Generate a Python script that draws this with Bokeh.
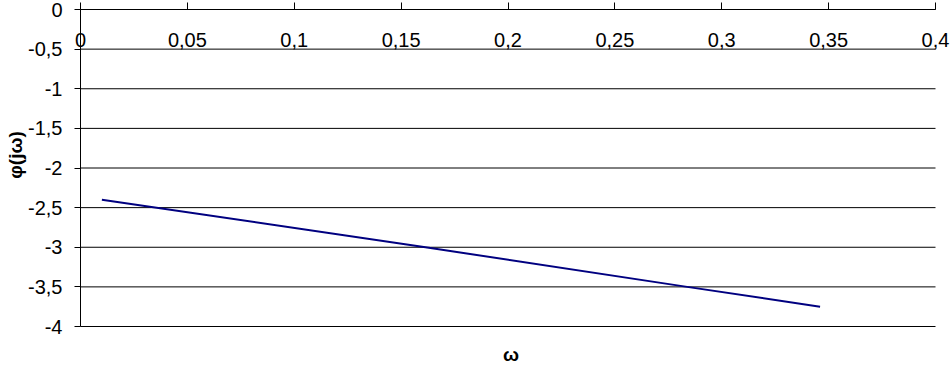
import math
from bokeh.plotting import figure
from bokeh.models import Range1d, LinearAxis, FixedTicker
from bokeh.core.properties import value
from bokeh.embed import file_html
from bokeh.resources import INLINE

# data
omega = [0.01, 0.1614, 0.2838, 0.346]
phi = [-2.40, -3.00, -3.50, -3.75]

x_ticks = [0, 0.05, 0.1, 0.15, 0.2, 0.25, 0.3, 0.35, 0.4]
x_labels = ["0", "0,05", "0,1", "0,15", "0,2", "0,25", "0,3", "0,35", "0,4"]
y_ticks = [0, -0.5, -1, -1.5, -2, -2.5, -3, -3.5, -4]
y_labels = ["0", "-0,5", "-1", "-1,5", "-2", "-2,5", "-3", "-3,5", "-4"]
x_title = "ω"
y_title = "φ(jω)"

FONT = "Liberation Sans"
FS = "20px"

# frame covers the whole canvas; x = 0 at px 80, x = 0.4 at px 935,
# y = 0 at px 9, y = -4 at px 326
W, H = 950, 365
xpx = 855 / 0.4
ypx = 317 / 4.0
x_range = Range1d(-80 / xpx, 0.4 + 15 / xpx)
y_range = Range1d(-4 - (H - 326) / ypx, 9 / ypx)

p = figure(width=W, height=H, output_backend="svg", toolbar_location=None,
           x_range=x_range, y_range=y_range,
           x_axis_location=None, y_axis_location=None,
           min_border=0, min_border_left=0, min_border_right=0,
           min_border_top=0, min_border_bottom=0)
p.outline_line_color = None
p.background_fill_color = "white"
p.border_fill_color = "white"
p.xgrid.grid_line_color = None
p.ygrid.grid_line_color = None

# horizontal grid lines between x = 0 and x = 0.4
n = len(y_ticks)
p.segment(x0=[x_ticks[0]] * n, y0=y_ticks, x1=[x_ticks[-1]] * n, y1=y_ticks,
          line_color="black", line_width=1)

# y axis at x = 0
ya = LinearAxis(fixed_location=0, bounds=(y_ticks[-1], y_ticks[0]),
                ticker=FixedTicker(ticks=y_ticks))
ya.major_label_overrides = {t: l for t, l in zip(y_ticks, y_labels)}
ya.axis_line_color = "black"
ya.major_tick_line_color = "black"
ya.major_tick_in = 0
ya.major_tick_out = 6
ya.minor_tick_line_color = None
ya.major_label_standoff = 12
ya.major_label_text_font = FONT
ya.major_label_text_font_size = FS
ya.major_label_text_color = "black"
p.add_layout(ya, "left")

# x axis at y = 0 (top of plot), ticks pointing up, labels below the line
xa = LinearAxis(fixed_location=0, bounds=(x_ticks[0], x_ticks[-1]),
                ticker=FixedTicker(ticks=x_ticks))
xa.major_label_overrides = {t: l for t, l in zip(x_ticks, x_labels)}
xa.axis_line_color = "black"
xa.major_tick_line_color = "black"
xa.major_tick_in = 7
xa.major_tick_out = 0
xa.minor_tick_line_color = None
xa.major_label_standoff = 23
xa.major_label_text_font = FONT
xa.major_label_text_font_size = FS
xa.major_label_text_color = "black"
p.add_layout(xa, "below")

# axis titles
p.text(x=[x_ticks[0]], y=[sum(y_ticks) / n], text=[y_title], angle=math.pi / 2,
       x_offset=-65, y_offset=-13, text_align="center", text_baseline="middle",
       text_font=value(FONT), text_font_size=value("19px"), text_font_style="bold",
       text_color="black")
p.text(x=[(x_ticks[0] + x_ticks[-1]) / 2], y=[y_ticks[-1]], text=[x_title],
       x_offset=3, y_offset=28, text_align="center", text_baseline="middle",
       text_font=value(FONT), text_font_size=value("19px"), text_font_style="bold",
       text_color="black")

p.line(omega, phi, line_color="#000080", line_width=2)

open("out.html", "w").write(file_html(p, INLINE))
